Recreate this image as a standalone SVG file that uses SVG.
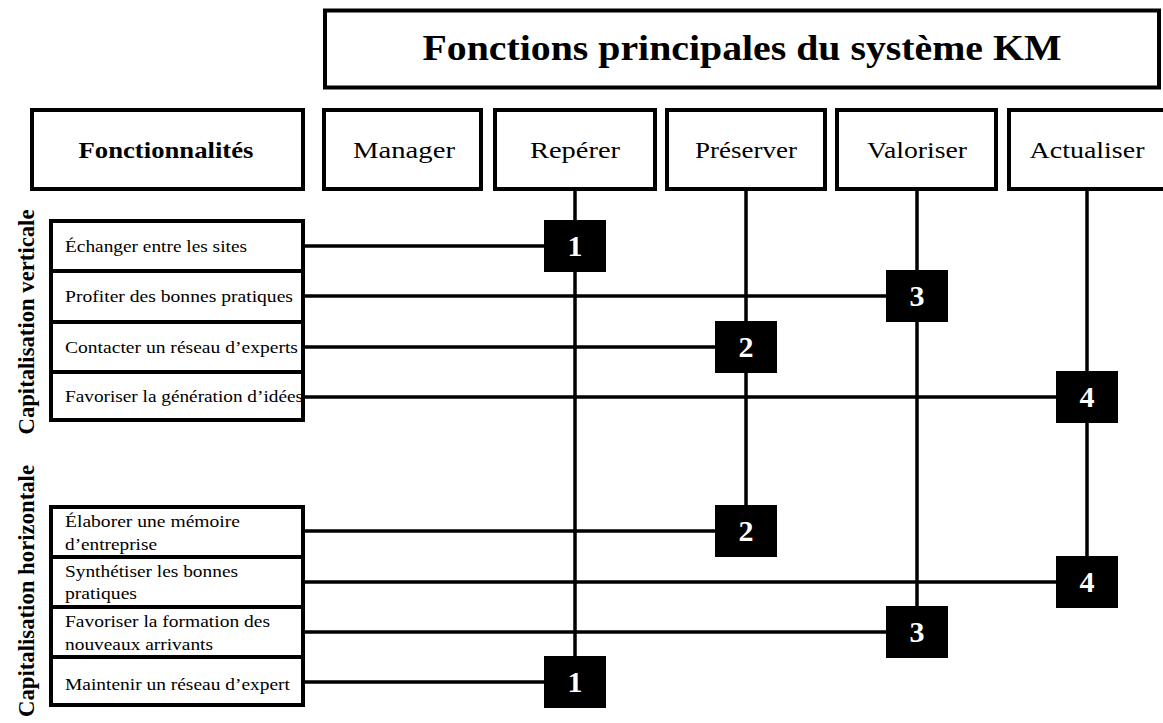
<svg xmlns="http://www.w3.org/2000/svg" width="1163" height="723" viewBox="0 0 1163 723">
<style>
.box{fill:#fff;stroke:#000;stroke-width:4}
.hdr{font-family:"Liberation Serif",serif;font-size:23px;fill:#000;text-anchor:middle}
.bold{font-weight:bold}
.row{font-family:"Liberation Serif",serif;font-size:17.5px;fill:#000}
.side{font-family:"Liberation Serif",serif;font-size:24px;font-weight:bold;fill:#000;text-anchor:middle}
.num{fill:#000}
.numt{font-family:"Liberation Serif",serif;font-size:30px;font-weight:bold;fill:#fff;text-anchor:middle}
.ln{stroke:#000;stroke-width:3.5;fill:none}
</style>
<rect width="1163" height="723" fill="#fff"/>
<g id="connectors">
<line class="ln" x1="575" y1="191" x2="575" y2="660"/>
<line class="ln" x1="746" y1="191" x2="746" y2="508"/>
<line class="ln" x1="917" y1="191" x2="917" y2="609"/>
<line class="ln" x1="1087" y1="191" x2="1087" y2="559"/>
<line class="ln" x1="305" y1="246" x2="546" y2="246"/>
<line class="ln" x1="305" y1="296" x2="888" y2="296"/>
<line class="ln" x1="305" y1="347" x2="717" y2="347"/>
<line class="ln" x1="305" y1="397" x2="1058" y2="397"/>
<line class="ln" x1="305" y1="531" x2="717" y2="531"/>
<line class="ln" x1="305" y1="582" x2="1058" y2="582"/>
<line class="ln" x1="305" y1="632" x2="888" y2="632"/>
<line class="ln" x1="305" y1="682" x2="546" y2="682"/>
</g>
<g id="title">
<rect class="box" x="325" y="10.5" width="834" height="77"/>
<text class="hdr bold" x="742" y="60" style="font-size:36px" textLength="639" lengthAdjust="spacingAndGlyphs">Fonctions principales du système KM</text>
</g>
<g id="h-fonctionnalites">
<rect class="box" x="32" y="110" width="271" height="79"/>
<text class="hdr bold" x="166" y="158" textLength="175" lengthAdjust="spacingAndGlyphs">Fonctionnalités</text>
</g>
<g id="h-manager">
<rect class="box" x="324" y="110" width="157" height="79"/>
<text class="hdr" x="404" y="158" textLength="102" lengthAdjust="spacingAndGlyphs">Manager</text>
</g>
<g id="h-reperer">
<rect class="box" x="495" y="110" width="160" height="79"/>
<text class="hdr" x="575" y="158" textLength="90" lengthAdjust="spacingAndGlyphs">Repérer</text>
</g>
<g id="h-preserver">
<rect class="box" x="667" y="110" width="158" height="79"/>
<text class="hdr" x="746" y="158" textLength="102" lengthAdjust="spacingAndGlyphs">Préserver</text>
</g>
<g id="h-valoriser">
<rect class="box" x="837" y="110" width="159" height="79"/>
<text class="hdr" x="917" y="158" textLength="100" lengthAdjust="spacingAndGlyphs">Valoriser</text>
</g>
<g id="h-actualiser">
<rect class="box" x="1009" y="110" width="158" height="79"/>
<text class="hdr" x="1087" y="158" textLength="115" lengthAdjust="spacingAndGlyphs">Actualiser</text>
</g>
<g id="label-verticale">
<text class="side" transform="translate(34,322) rotate(-90)" textLength="225" lengthAdjust="spacingAndGlyphs">Capitalisation verticale</text>
</g>
<g id="label-horizontale">
<text class="side" transform="translate(34,591) rotate(-90)" textLength="252" lengthAdjust="spacingAndGlyphs">Capitalisation horizontale</text>
</g>
<g id="row-echanger">
<rect class="box" x="51" y="221" width="252" height="50"/>
<text class="row" x="65" y="252" textLength="182" lengthAdjust="spacingAndGlyphs">Échanger entre les sites</text>
</g>
<g id="row-profiter">
<rect class="box" x="51" y="271" width="252" height="51"/>
<text class="row" x="65" y="302" textLength="228" lengthAdjust="spacingAndGlyphs">Profiter des bonnes pratiques</text>
</g>
<g id="row-contacter">
<rect class="box" x="51" y="322" width="252" height="50"/>
<text class="row" x="65" y="353" textLength="233" lengthAdjust="spacingAndGlyphs">Contacter un réseau d’experts</text>
</g>
<g id="row-favoriser-idees">
<rect class="box" x="51" y="372" width="252" height="48"/>
<text class="row" x="65" y="402" textLength="238" lengthAdjust="spacingAndGlyphs">Favoriser la génération d’idées</text>
</g>
<g id="row-elaborer">
<rect class="box" x="51" y="507" width="252" height="50"/>
<text class="row" x="65" y="527" textLength="175" lengthAdjust="spacingAndGlyphs">Élaborer une mémoire</text>
<text class="row" x="65" y="550" textLength="92" lengthAdjust="spacingAndGlyphs">d’entreprise</text>
</g>
<g id="row-synthetiser">
<rect class="box" x="51" y="557" width="252" height="50"/>
<text class="row" x="65" y="577" textLength="173" lengthAdjust="spacingAndGlyphs">Synthétiser les bonnes</text>
<text class="row" x="65" y="599" textLength="72" lengthAdjust="spacingAndGlyphs">pratiques</text>
</g>
<g id="row-formation">
<rect class="box" x="51" y="607" width="252" height="50"/>
<text class="row" x="65" y="627" textLength="205" lengthAdjust="spacingAndGlyphs">Favoriser la formation des</text>
<text class="row" x="65" y="650" textLength="148" lengthAdjust="spacingAndGlyphs">nouveaux arrivants</text>
</g>
<g id="row-maintenir">
<rect class="box" x="51" y="657" width="252" height="48"/>
<text class="row" x="65" y="690" textLength="225" lengthAdjust="spacingAndGlyphs">Maintenir un réseau d’expert</text>
</g>
<g id="n1a"><rect class="num" x="544" y="220" width="62" height="52"/><text class="numt" x="575" y="256">1</text></g>
<g id="n3a"><rect class="num" x="886" y="270" width="62" height="52"/><text class="numt" x="917" y="306">3</text></g>
<g id="n2a"><rect class="num" x="715" y="321" width="62" height="52"/><text class="numt" x="746" y="357">2</text></g>
<g id="n4a"><rect class="num" x="1056" y="371" width="62" height="52"/><text class="numt" x="1087" y="407">4</text></g>
<g id="n2b"><rect class="num" x="715" y="505" width="62" height="52"/><text class="numt" x="746" y="541">2</text></g>
<g id="n4b"><rect class="num" x="1056" y="556" width="62" height="52"/><text class="numt" x="1087" y="592">4</text></g>
<g id="n3b"><rect class="num" x="886" y="606" width="62" height="52"/><text class="numt" x="917" y="642">3</text></g>
<g id="n1b"><rect class="num" x="544" y="656" width="62" height="52"/><text class="numt" x="575" y="692">1</text></g>
</svg>
